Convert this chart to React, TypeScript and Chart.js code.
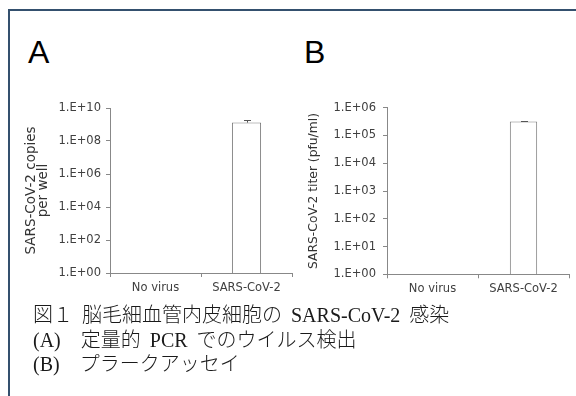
import React, { useEffect, useRef } from 'react';
import { Chart, registerables } from 'chart.js';

Chart.register(...registerables);

// ---- data ----
const categories = ['No virus', 'SARS-CoV-2'];
const copiesPerWell: (number | null)[] = [null, 1.3e9];
const copiesError: (number | null)[] = [null, 6e8];
const titerPfu: (number | null)[] = [null, 3.2e5];
const titerError: (number | null)[] = [null, 1.5e4];
const copiesTickExps = [0, 2, 4, 6, 8, 10];
const titerTickExps = [0, 1, 2, 3, 4, 5, 6];
const panelLetters = ['A', 'B'];
const copiesTitle = ['SARS-CoV-2 copies', 'per well'];
const titerTitle = 'SARS-CoV-2 titer (pfu/ml)';
const captionLines = [
  '図１ 脳毛細血管内皮細胞の SARS-CoV-2 感染',
  '(A)　定量的 PCR でのウイルス検出',
  '(B)　プラークアッセイ',
];

const AXIS = '#888888';
const TICK_TEXT = '#404040';
const SANS = '"DejaVu Sans", "Liberation Sans", sans-serif';

const fmtExp = (v: number) => {
  const e = Math.round(Math.log10(v));
  return '1.E+' + (e < 10 ? '0' + e : String(e));
};

const errorBarPlugin = {
  id: 'errorBars',
  afterDatasetsDraw(chart: any, _args: any, opts: any) {
    const errs: (number | null)[] = opts.errors || [];
    const meta = chart.getDatasetMeta(0);
    const ys = chart.scales.y;
    const ctx = chart.ctx;
    ctx.save();
    ctx.strokeStyle = opts.color || '#555';
    ctx.lineWidth = 1;
    meta.data.forEach((bar: any, i: number) => {
      const v = chart.data.datasets[0].data[i];
      const e = errs[i];
      if (v == null || e == null) return;
      const yTop = Math.round(ys.getPixelForValue(v + e)) + 0.5;
      const x = Math.round(bar.x) + 0.5;
      ctx.beginPath();
      ctx.moveTo(x, bar.y);
      ctx.lineTo(x, yTop);
      ctx.moveTo(x - 3.5, yTop);
      ctx.lineTo(x + 3.5, yTop);
      ctx.stroke();
    });
    ctx.restore();
  },
};

type PanelCfg = {
  values: (number | null)[];
  errors: (number | null)[];
  exps: number[];
  title: string | string[];
  titleSize: number;
  titlePad: number;
  yWidth: number;
  xHeight: number;
  padTop: number;
  padRight: number;
  tickPad: number;
  barPct: number;
};

function makeConfig(p: PanelCfg): any {
  return {
    type: 'bar',
    data: {
      labels: categories,
      datasets: [
        {
          data: p.values,
          backgroundColor: '#ffffff',
          borderColor: '#7f7f7f',
          borderWidth: 1,
          borderSkipped: 'start',
          categoryPercentage: 1,
          barPercentage: p.barPct,
        },
      ],
    },
    options: {
      responsive: false,
      animation: false,
      devicePixelRatio: 1,
      layout: { padding: { left: 0, right: p.padRight, top: p.padTop, bottom: 0 } },
      plugins: {
        legend: { display: false },
        tooltip: { enabled: false },
        title: { display: false },
        errorBars: { errors: p.errors, color: '#555555' },
      },
      scales: {
        x: {
          type: 'category',
          offset: true,
          grid: { offset: true, drawOnChartArea: false, drawTicks: true, tickLength: 4, color: AXIS, lineWidth: 1 },
          border: { display: true, color: AXIS, width: 1 },
          ticks: {
            color: TICK_TEXT,
            font: { family: SANS, size: 11.5 },
            padding: 4,
            maxRotation: 0,
            autoSkip: false,
          },
          afterFit: (s: any) => {
            s.height = p.xHeight;
          },
        },
        y: {
          type: 'logarithmic',
          min: Math.pow(10, p.exps[0]),
          max: Math.pow(10, p.exps[p.exps.length - 1]),
          grid: { drawOnChartArea: false, drawTicks: true, tickLength: 4, color: AXIS, lineWidth: 1 },
          border: { display: true, color: AXIS, width: 1 },
          ticks: {
            color: TICK_TEXT,
            font: { family: SANS, size: 11.5 },
            padding: p.tickPad,
            callback: (v: any) => fmtExp(Number(v)),
          },
          afterBuildTicks: (s: any) => {
            s.ticks = p.exps.map((e) => ({ value: Math.pow(10, e) }));
          },
          afterFit: (s: any) => {
            s.width = p.yWidth;
          },
          title: {
            display: true,
            text: p.title,
            color: '#333333',
            font: { family: SANS, size: p.titleSize, lineHeight: 0.9 },
            padding: { top: p.titlePad, bottom: 0 },
          },
        },
      },
    },
    plugins: [errorBarPlugin],
  };
}

export default function App() {
  const refA = useRef<HTMLCanvasElement | null>(null);
  const refB = useRef<HTMLCanvasElement | null>(null);

  useEffect(() => {
    const a = new Chart(
      refA.current as HTMLCanvasElement,
      makeConfig({
        values: copiesPerWell,
        errors: copiesError,
        exps: copiesTickExps,
        title: copiesTitle,
        titleSize: 13.5,
        titlePad: 15,
        yWidth: 100,
        xHeight: 32,
        padTop: 18,
        padRight: 3,
        tickPad: 5,
        barPct: 0.32,
      })
    );
    const b = new Chart(
      refB.current as HTMLCanvasElement,
      makeConfig({
        values: titerPfu,
        errors: titerError,
        exps: titerTickExps,
        title: titerTitle,
        titleSize: 12.3,
        titlePad: 13,
        yWidth: 92,
        xHeight: 30.7,
        padTop: 17.7,
        padRight: 7,
        tickPad: 7,
        barPct: 0.3,
      })
    );
    return () => {
      a.destroy();
      b.destroy();
    };
  }, []);

  const letterStyle: React.CSSProperties = {
    position: 'absolute',
    top: 36,
    fontFamily: '"Liberation Sans", Arial, sans-serif',
    fontSize: 32,
    lineHeight: '32px',
    color: '#000',
  };

  return (
    <div
      style={{
        position: 'absolute',
        left: 0,
        top: 0,
        width: 576,
        height: 396,
        background: '#ffffff',
        overflow: 'hidden',
      }}
    >
      <div
        style={{
          position: 'absolute',
          left: 8,
          top: 9,
          width: 640,
          height: 440,
          borderTop: '2px solid #34506e',
          borderLeft: '2px solid #34506e',
        }}
      />
      <div style={{ ...letterStyle, left: 28 }}>{panelLetters[0]}</div>
      <div style={{ ...letterStyle, left: 304 }}>{panelLetters[1]}</div>
      <canvas
        ref={refA}
        width={285}
        height={215}
        style={{ position: 'absolute', left: 10, top: 90, width: 285, height: 215 }}
      />
      <canvas
        ref={refB}
        width={281}
        height={215}
        style={{ position: 'absolute', left: 295, top: 90, width: 281, height: 215 }}
      />
      <div
        style={{
          position: 'absolute',
          left: 33,
          top: 303,
          fontFamily: '"Liberation Serif", "Noto Sans CJK JP", serif',
          fontSize: 20,
          fontWeight: 300,
          lineHeight: '24.5px',
          whiteSpace: 'pre',
          wordSpacing: 4,
          color: '#1a1a1a',
        }}
      >
        {captionLines.map((l, i) => (
          <div key={i}>{l}</div>
        ))}
      </div>
    </div>
  );
}
